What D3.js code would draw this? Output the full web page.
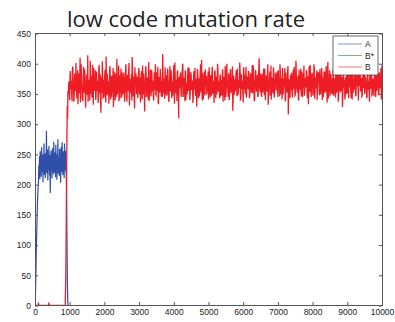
<!DOCTYPE html>
<html>
<head>
<meta charset="utf-8">
<script src="https://cdn.jsdelivr.net/npm/d3@7"></script>
<style>
  html, body { margin: 0; padding: 0; background: #fff; }
  svg { display: block; }
  .tick text { font-family: "Liberation Sans", Arial, sans-serif; font-size: 8.5px; fill: #222; }
</style>
</head>
<body>
<svg id="chart" width="395" height="322"></svg>
<script>
// ---- data ----
const chartTitle = "low code mutation rate";
const xTicks = [0, 1000, 2000, 3000, 4000, 5000, 6000, 7000, 8000, 9000, 10000];
const yTicks = [0, 50, 100, 150, 200, 250, 300, 350, 400, 450];
const seriesNames = ["A", "B*", "B"];

// population A, sampled every 10 generations from 0 to 950, then extinct
const aStart = 0, aStep = 10;
const aValues = [
  0, 12, 38, 66, 98, 122, 145, 168, 183, 196, 206,
  232,218,247,209,255,226,240,213,262,235,221,250,204,243,229,268,216,238,252,211,
  245,227,289,219,236,258,207,241,224,264,231,215,249,186,237,256,222,244,210,260,
  228,247,217,271,233,220,253,239,212,266,225,242,208,251,235,275,218,230,246,214,
  259,227,240,203,262,236,221,270,243,216,255,232,248,211,268,238,224,256,220,
  222, 190, 120, 55, 18, 0
];
const aTail = [[10000, 0]];

// population B*, never established
const bStarPoints = [[0, 0], [5000, 0], [10000, 0]];

// population B: early sporadic mutants and takeover (generation, count)
const bHead = [
  [0, 0], [90, 0], [100, 5], [110, 0], [390, 0], [400, 5], [410, 0],
  [870, 0], [880, 25], [890, 60], [900, 130], [910, 210], [920, 280],
  [930, 330], [940, 310], [950, 355]
];
// population B after takeover: even samples from 960 and odd samples from 970, every 20 generations
const bStep = 20;
const bEvenStart = 960;
const bEvenValues = [
  352,371,340,388,366,345,392,358,337,379,362,401,348,369,333,384,357,410,343,375,
  361,338,395,352,380,327,368,349,414,356,372,339,386,361,345,398,332,370,355,389,
  347,376,364,335,393,351,382,319,367,404,342,373,358,390,336,365,383,349,371,356,
  396,341,369,380,352,328,387,361,374,345,408,355,367,338,381,359,392,344,370,353,
  385,337,362,399,348,376,357,389,331,368,352,383,411,346,372,340,394,363,350,379,
  343,367,388,355,336,381,360,397,349,374,321,366,385,352,377,341,403,358,369,346,
  390,354,372,339,386,363,349,378,355,395,333,370,359,382,346,364,416,351,375,342,
  368,381,347,392,360,337,374,356,389,343,371,362,398,334,379,353,366,387,348,310,
  377,359,384,345,369,400,352,373,338,386,361,349,379,355,393,340,367,382,357,371,
  344,388,363,350,375,329,391,358,369,346,383,362,406,339,372,354,387,348,366,380,
  356,373,341,394,360,378,347,385,352,368,335,389,363,376,349,400,357,371,343,382,
  365,350,386,337,372,359,396,345,379,361,353,384,340,370,391,356,367,322,381,348,
  374,362,389,346,377,355,368,402,341,383,358,372,336,387,364,350,395,347,376,360,
  386,343,369,381,352,398,359,374,338,366,390,354,379,345,371,409,357,384,349,367,
  352,378,361,392,340,373,356,385,332,369,381,347,397,362,375,351,388,344,366,379,
  358,387,345,371,364,399,350,376,341,383,360,368,393,338,374,355,386,316,370,349,
  381,356,372,344,390,361,377,348,405,365,352,380,339,369,357,392,346,373,384,360,
  347,375,363,388,354,370,333,396,359,378,345,384,367,351,399,342,371,362,389,355,
  369,386,348,374,357,393,340,377,365,352,387,361,379,336,403,354,372,346,383,363,
  375,349,390,359,368,344,382,356,396,337,371,385,353,366,378,328,391,360,374,347,
  362,380,351,397,343,373,389,355,367,341,384,370,357,394,348,376,363,381,339,369,
  386,354,377,346,371,360,401,350,379,365,343,388,356,372,337,385,361,392,349,374,
  357,382,366,345,391,362,375,348,386,359,370,341,397
];
const bOddStart = 970;
const bOddValues = [
  364,349,381,357,372,338,395,361,346,384,355,370,342,389,367,351,378,336,399,360,
  343,376,358,391,347,369,382,353,337,374,362,405,350,380,345,366,393,357,371,340,
  387,355,372,346,398,363,339,377,352,385,368,344,381,359,412,348,373,361,334,390,
  358,380,345,367,393,351,376,339,384,362,349,371,397,355,342,378,363,386,350,369,
  371,346,389,360,337,382,355,401,348,375,364,339,392,357,379,326,368,384,352,373,
  356,393,349,377,362,388,341,370,384,353,367,396,345,374,359,381,338,363,390,351,
  382,361,344,373,357,399,348,386,365,336,378,352,391,359,371,345,384,362,347,394,
  349,375,362,387,341,368,396,354,380,359,347,383,365,402,351,374,338,389,360,376,
  366,383,352,371,398,345,377,361,389,340,368,355,394,363,379,348,386,357,371,335,
  379,358,393,347,373,362,387,343,376,360,399,352,368,384,341,371,356,391,363,349,
  361,387,353,376,344,381,366,395,350,372,359,386,343,377,364,392,354,369,380,346,
  373,349,391,361,378,339,384,357,400,368,345,374,358,389,351,366,396,343,375,362,
  354,381,367,392,348,373,360,387,342,379,365,350,394,357,382,369,344,377,361,388,
  368,346,384,359,375,351,397,362,340,386,371,356,380,347,392,364,353,378,345,383,
  359,392,348,373,366,381,354,399,345,369,387,360,341,376,358,394,350,371,385,356,
  377,353,389,364,346,382,370,357,393,349,375,362,340,385,367,352,396,359,374,343,
  364,385,351,378,360,395,347,372,383,356,368,341,390,361,376,353,387,345,370,397,
  352,374,361,388,343,379,366,353,398,358,371,384,347,369,392,355,377,363,340,386,
  375,356,391,349,368,382,360,345,387,372,353,396,364,378,342,370,389,357,381,350,
  361,388,347,376,365,393,352,370,383,344,379,361,398,355,373,348,386,367,341,378,
  350,382,368,355,394,361,377,343,389,366,352,375,391,359,346,384,370,357,399,363,
  387,359,373,347,381,365,392,354,376,362,345,388,369,351,383,360,395,348,374,366,
  346,379,363,390,355,371,384,351,377,364,393,358
];

// ---- layout ----
const W = 395, H = 322;
const plot = { left: 35, right: 382, top: 33, bottom: 305 };
const colors = { "A": "#2f4fa8", "B*": "#1a8a3a", "B": "#ee1c24" };
const widths = { "A": 1.2, "B*": 1, "B": 1.3 };

const svg = d3.select("#chart");

const x = d3.scaleLinear().domain([0, 10000]).range([plot.left, plot.right]);
// half-pixel offset so zero counts sit on the axis line
const y = d3.scaleLinear().domain([0, 450]).range([plot.bottom + 0.5, plot.top + 0.5]);

// assemble point lists
const aPoints = aValues.map((v, i) => [aStart + i * aStep, v]).concat(aTail);
const bBody = bEvenValues.map((v, i) => [bEvenStart + i * bStep, v])
  .concat(bOddValues.map((v, i) => [bOddStart + i * bStep, v]))
  .sort((p, q) => p[0] - q[0]);
const bPoints = bHead.concat(bBody);
const series = [
  { name: "A", points: aPoints },
  { name: "B*", points: bStarPoints },
  { name: "B", points: bPoints }
];

svg.append("defs").append("clipPath").attr("id", "plotClip")
  .append("rect")
  .attr("x", plot.left).attr("y", plot.top)
  .attr("width", plot.right - plot.left).attr("height", plot.bottom - plot.top + 1);

const line = d3.line().x(d => x(d[0])).y(d => y(d[1]));

svg.append("g").attr("clip-path", "url(#plotClip)")
  .selectAll("path").data(series).join("path")
  .attr("d", d => line(d.points))
  .attr("fill", "none")
  .attr("stroke", d => colors[d.name])
  .attr("stroke-width", d => widths[d.name])
  .attr("stroke-linejoin", "miter");

// axes (ticks point inward, box on all four sides)
const axisColor = "#555";
const gx = svg.append("g").attr("transform", `translate(0,${plot.bottom})`)
  .call(d3.axisBottom(x).tickValues(xTicks).tickSizeInner(-3).tickSizeOuter(0).tickPadding(4).tickFormat(d3.format("d")));
const gxTop = svg.append("g").attr("transform", `translate(0,${plot.top})`)
  .call(d3.axisTop(x).tickValues(xTicks).tickSizeInner(-3).tickSizeOuter(0).tickFormat(""));
const gy = svg.append("g").attr("transform", `translate(${plot.left},0)`)
  .call(d3.axisLeft(y).tickValues(yTicks).tickSizeInner(-3).tickSizeOuter(0).tickPadding(4));
const gyRight = svg.append("g").attr("transform", `translate(${plot.right},0)`)
  .call(d3.axisRight(y).tickValues(yTicks).tickSizeInner(-3).tickSizeOuter(0).tickFormat(""));

[gx, gxTop, gy, gyRight].forEach(g => {
  g.selectAll(".domain").attr("stroke", axisColor);
  g.selectAll(".tick line").attr("stroke", axisColor);
});
gx.selectAll(".tick text").attr("dy", "0.75em");

// legend
const lg = svg.append("g");
const lgBox = { x: 333, y: 36, w: 45, h: 39 };
lg.append("rect")
  .attr("x", lgBox.x).attr("y", lgBox.y).attr("width", lgBox.w).attr("height", lgBox.h)
  .attr("fill", "#fff").attr("stroke", "#444").attr("stroke-width", 0.8);
seriesNames.forEach((name, i) => {
  const ly = lgBox.y + 8 + i * 11.5;
  lg.append("line")
    .attr("x1", lgBox.x + 5).attr("x2", lgBox.x + 29)
    .attr("y1", ly).attr("y2", ly)
    .attr("stroke", colors[name]).attr("stroke-opacity", 0.6).attr("stroke-width", 1);
  lg.append("text")
    .attr("x", lgBox.x + 32).attr("y", ly + 3)
    .attr("font-family", "Liberation Sans, Arial, sans-serif")
    .attr("font-size", 8.5).attr("fill", "#222")
    .text(name);
});

// title
svg.append("text")
  .attr("x", 186).attr("y", 27)
  .attr("text-anchor", "middle")
  .attr("font-family", "Open Sans, sans-serif")
  .attr("font-size", 22)
  .attr("fill", "#222")
  .text(chartTitle);
</script>
</body>
</html>
